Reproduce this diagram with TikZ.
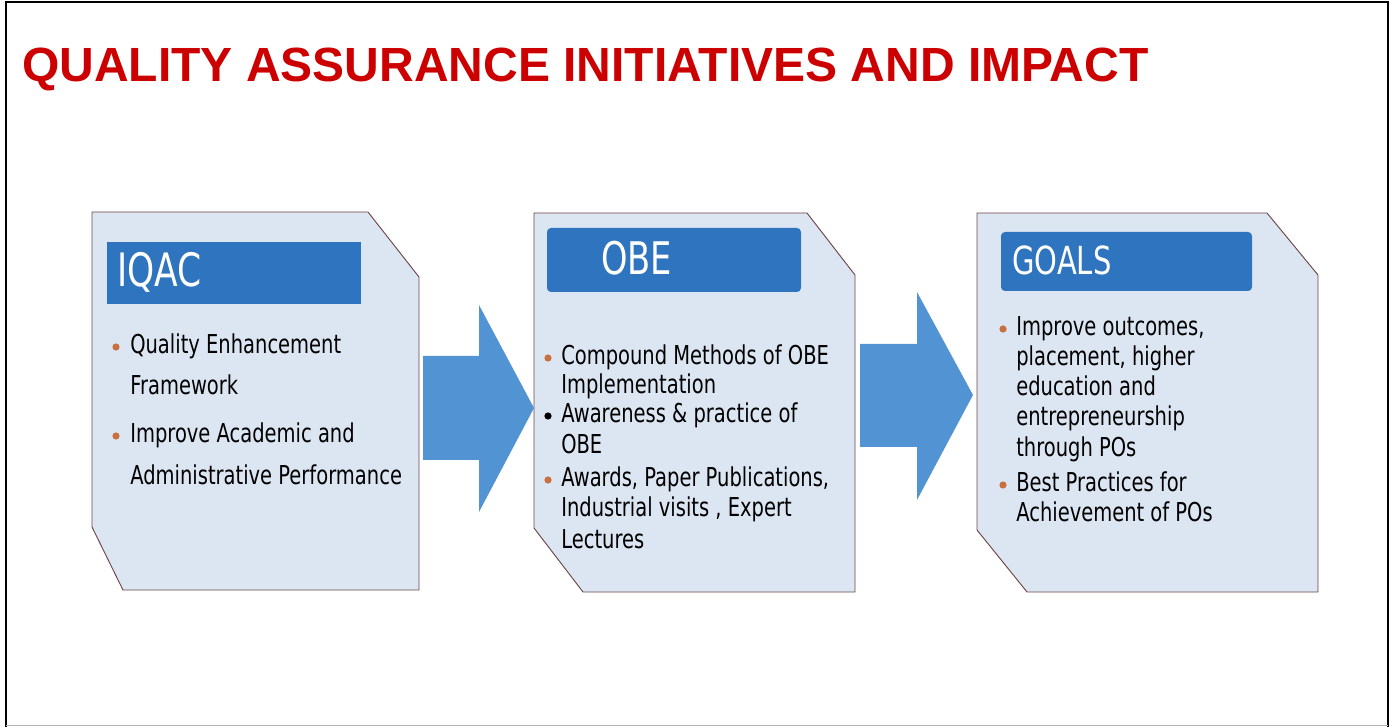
\documentclass[tikz,border=0pt]{standalone}
\usepackage{fontspec}
\setmainfont{Liberation Sans}
\newfontfamily\boxfont[FakeStretch=0.75]{DejaVu Sans}
\usepackage{xcolor}
\definecolor{qared}{HTML}{CC0000}
\definecolor{boxfill}{HTML}{DCE6F2}
\definecolor{boxline}{HTML}{6E4446}
\definecolor{barblue}{HTML}{2F74BF}
\definecolor{arrowblue}{HTML}{5294D3}
\definecolor{dotorange}{HTML}{C8703F}

\begin{document}
\begin{tikzpicture}[x=0.75pt,y=-0.75pt,
    panel/.style={fill=boxfill, draw=boxline, line width=0.7pt},
    bar/.style={fill=barblue},
    bartext/.style={anchor=base west, inner sep=0pt, text=white,
        font=\boxfont\fontsize{#1}{#1}\selectfont},
    item/.style={anchor=base west, inner sep=0pt, text=black,
        font=\boxfont\fontsize{19.5}{22}\selectfont},
    dot/.style={fill=#1}]
    \useasboundingbox (0,0) rectangle (1390,727);

    % Frame and title
    \draw[line width=2pt] (6,727) -- (6,2) -- (1388,2) -- (1388,727);
    \draw[gray!60, line width=1pt] (6,725.5) -- (1388,725.5);
    \node[anchor=base west, inner sep=0pt, text=qared,
        font=\bfseries\fontsize{36}{40}\selectfont] (title) at (22,82)
        {QUALITY ASSURANCE INITIATIVES AND IMPACT};

    % Panel 1: IQAC
    \draw[panel] (92,212) -- (368,212) -- (419,277) -- (419,590) -- (123,590) -- (92,527) -- cycle;
    \fill[bar] (107,242) rectangle (361,304);
    \node[bartext=34.5] (iqac) at (117,287) {IQAC};
    \foreach \y/\t [count=\i] in {354/Quality Enhancement, 395/Framework,
        443/Improve Academic and, 484/Administrative Performance}
    {
    \node[item] (iqac-\i) at (130,\y) {\t};
    }
    \foreach \y in {347,436}
        \fill[dot=dotorange] (116,\y) circle[radius=2.7pt];

    % Panel 2: OBE
    \draw[panel] (534,213) -- (807,213) -- (855,275) -- (855,592) -- (583,592) -- (534,528) -- cycle;
    \fill[bar, rounded corners=3pt] (547,228) rectangle (801,292);
    \node[bartext=33.7] (obe) at (601,275) {OBE};
    \foreach \y/\t [count=\i] in {365/Compound Methods of OBE, 394/Implementation,
        423/Awareness \& practice of, 454/OBE, 487/{Awards, Paper Publications,},
        517/{Industrial visits , Expert}, 548/Lectures}
    {
    \node[item] (obe-\i) at (561,\y) {\t};
    }
    \foreach \y/\c in {358/dotorange, 416/black, 480/dotorange}
        \fill[dot=\c] (548,\y) circle[radius=2.7pt];

    % Panel 3: GOALS
    \draw[panel] (977,213) -- (1267,213) -- (1318,275) -- (1318,592) -- (1027,592) -- (977,530) -- cycle;
    \fill[bar, rounded corners=3pt] (1001,232) rectangle (1252,291);
    \node[bartext=29] (goals) at (1012,275) {GOALS};
    \foreach \y/\t [count=\i] in {336/{Improve outcomes,}, 366/{placement, higher},
        396/education and, 426/entrepreneurship, 456/through POs,
        492/Best Practices for, 521/Achievement of POs}
    {
    \node[item] (goals-\i) at (1016,\y) {\t};
    }
    \foreach \y in {329,485}
        \fill[dot=dotorange] (1003,\y) circle[radius=2.7pt];

    % Block arrows
    \fill[arrowblue] (423,356) -- (479,356) -- (479,305) -- (534,408) -- (479,512) -- (479,460) -- (423,460) -- cycle;
    \fill[arrowblue] (860,344) -- (917,344) -- (917,292) -- (973,395) -- (917,500) -- (917,447) -- (860,447) -- cycle;

\end{tikzpicture}
\end{document}
